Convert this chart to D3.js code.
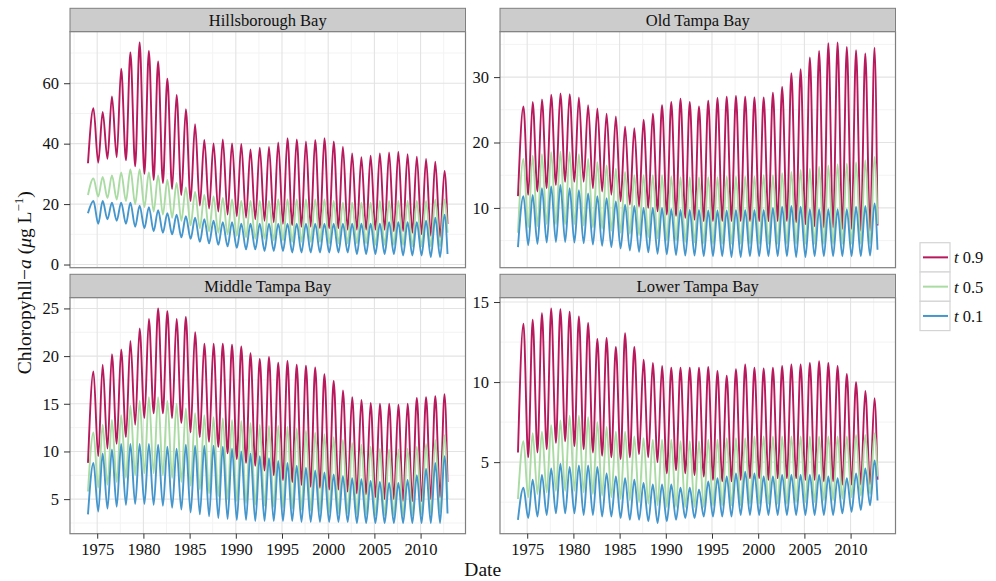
<!DOCTYPE html>
<html>
<head>
<meta charset="utf-8">
<script src="https://cdn.jsdelivr.net/npm/d3@7.8.5/dist/d3.min.js"></script>
<style>
  body { margin: 0; background: #fff; }
  svg { display: block; }
  svg text { font-family: "Liberation Serif", "Times New Roman", Times, "DejaVu Serif", serif; }
</style>
</head>
<body>
<svg id="chart" width="996" height="581"></svg>
<script>
// one summer peak per year 1974-2012, lows = Jan 1974, winter lows 1975-2012, Dec 2012
const years = d3.range(1974, 2013);
const xTickYears = [1975, 1980, 1985, 1990, 1995, 2000, 2005, 2010];
const quantLabels = ['0.9', '0.5', '0.1'];
const quantColors = ['#b8195c', '#a9dba2', '#4596cc'];
const SERIF = '"Liberation Serif", "Times New Roman", Times, "DejaVu Serif", serif';

// Hillsborough Bay
const hb90Peak = [51.7,50.5,55.6,64.8,70.2,73.5,70.7,67.2,61.5,56.1, 51.4,46.4,41.2,40.1,41.4,40.1,39.9,38.1,38.7,38.9, 40.4,41.8,41.4,40.7,41.2,41.8,40.7,39.0,36.8,35.5, 36.0,36.8,37.1,37.3,36.5,35.7,34.9,34.0,31.0];
const hb90Low = [33.5, 33.7,35,35.5,34.5,32.5,30,28,27,25, 23,21,19.5,18.5,17.5,16.5,16,15.5,15,14.5, 14,13.5,13,12.5,12.5,12,12,12,11.5,11.5, 11.5,11.5,11.5,11,11,10.5,10,9.5,9, 13.4];
const hb50Peak = [28.5,29,29.5,30.5,31.5,31.5,30.5,29.5,28,27, 25.5,24,23,22.5,22,21.5,21,21,21,21, 21.5,21.5,21.5,21.5,21.5,21.5,21,20.5,20.5,20.5, 20.5,21,21,21,21,21,21,21.5,21.5];
const hb50Low = [23, 22.5,22,21.5,21,20,19,17.5,16.5,15.5, 14.5,13,12,11,10.5,10,9.5,9,8.5,8.5, 8,8,7.5,7.5,7.5,7.5,7,7,7,7, 7,6.5,6.5,6.5,6.5,6,6,6,6, 10.5];
const hb10Peak = [21,21,20.5,20.5,20.5,19.5,19,18,17,16.5, 16,15.5,15,14.5,14,14,13.5,13.5,13.5,13.5, 13.5,13.5,13.5,13.5,13.5,13.5,13.5,13.5,13.5,13.5, 13.5,13.5,14,14,14,14,14.5,15.5,16.5];
const hb10Low = [17, 13.5,15,14.5,13.5,12.5,12,11,10.5,10, 9,8.5,7.5,7,6.5,6,5.5,5,5,4.5, 4.5,4.5,4,4,4,4,4,4,4,3.5, 3.5,3.5,3.5,3.5,3,3,3,2.5,2.5, 3.5];
const hbTicks = [0, 20, 40, 60];

// Old Tampa Bay
const ot90Peak = [25.5,26.2,26.6,27.3,27.5,27.4,26.9,25.7,25.2,24.4, 24.0,22.4,22.2,23.5,24.4,25.7,26.2,26.7,26.2,25.5, 26.4,26.8,27.0,27.1,27.0,26.9,26.9,27.6,28.5,30.6, 31.2,33.0,34.0,35.2,35.3,34.6,34.1,33.6,34.5];
const ot90Low = [11.8, 12,12.5,13,13.5,14,14,14,13,12.5, 12,11,10.5,10.2,10,9.5,9,8.8,8.5,8.2, 8,8,8,8,8,8,8,8,8,8, 7.8,7.5,7.2,7,7,6.8,6.8,6.5,6.5, 7.3];
const ot50Peak = [17.5,18,18.2,18.5,18.6,18.5,18.2,17.5,17,16.5, 16,15.5,15,15,15,15,14.8,14.7,14.7,14.7, 14.7,14.7,14.8,14.8,14.8,14.8,15,15,15.3,15.5, 15.8,16,16.3,16.5,16.7,16.8,17,17.3,17.8];
const ot50Low = [6.2, 7,7.2,7.5,7.5,7.5,7.5,7.3,7,6.8, 6.5,6.2,6,5.8,5.5,5.3,5,5,4.8,4.7, 4.6,4.5,4.5,4.5,4.5,4.5,4.5,4.5,4.5,4.5, 4.5,4.5,4.5,4.5,4.5,4.5,4.5,4.5,4.5, 7.5];
const ot10Peak = [11.8,12,13,13.3,13.5,13,12.7,12.2,11.8,11.5, 11,10.5,10.3,10,10,10,9.8,9.7,9.7,9.7, 9.6,9.6,9.6,9.7,9.7,9.7,9.7,10,10.2,10.3, 10.2,9.8,9.8,9.8,9.8,9.8,10.2,10.3,10.7];
const ot10Low = [4.0, 4.3,4.5,4.7,4.8,4.8,4.7,4.6,4.4,4.2, 4,3.8,3.5,3.3,3.2,3,2.9,2.8,2.7,2.7, 2.6,2.6,2.6,2.5,2.5,2.6,2.6,2.6,2.6,2.6, 2.5,2.5,2.6,2.6,2.6,2.6,2.6,2.6,2.7, 3.6];
const otTicks = [10, 20, 30];

// Middle Tampa Bay
const mt90Peak = [18.4,19.1,20.2,20.7,21.6,22.9,23.9,25.0,24.7,23.9, 24.1,22.5,21.3,21.3,21.3,21.2,21.0,20.3,19.7,19.9, 19.3,19.5,19.1,19.0,18.8,18.1,17.4,16.4,15.7,15.4, 15.1,15.0,15.0,14.9,15.0,15.6,15.7,15.8,16.0];
const mt90Low = [8.8, 9.5,10.3,10.8,11.5,12.8,13.5,14,14,13.5, 13,12,11.5,11,10.5,9.8,9.2,8.8,8.5,8, 7.5,7,6.8,6.5,6.3,6.2,6,6,5.8,5.6, 5.5,5.2,5,5,4.8,4.8,4.8,5,5.2, 6.8];
const mt50Peak = [12,12.8,13.3,13.8,14.8,15.3,15.7,15.7,15.3,15, 14.5,14,13.8,13.6,13.5,13.3,13.2,13,12.8,12.7, 12.7,12.6,12.4,12.2,12,11.8,11.5,11.2,10.9,10.7, 10.5,10.3,10.2,10.2,10.3,10.5,10.8,11.2,11.7];
const mt50Low = [5.8, 6.2,6.5,6.8,7.2,7.5,7.7,7.7,7.5,7.2, 6.8,6.4,6,5.6,5.3,5,4.8,4.6,4.4,4.3, 4.2,4.1,4,3.9,3.8,3.7,3.6,3.5,3.5,3.4, 3.4,3.3,3.3,3.3,3.3,3.3,3.4,3.5,3.6, 5];
const mt10Peak = [8.8,9.8,10.2,10.8,10.8,10.8,10.8,10.7,10.5,10.3, 10.7,10.6,10.6,10.6,10.5,10.3,10,9.8,9.5,9.3, 9,8.8,8.5,8.3,8,7.8,7.6,7.4,7.2,7.1, 6.9,6.8,6.7,6.7,7,7.5,8.2,8.8,9.5];
const mt10Low = [3.4, 3.7,4,4.2,4.4,4.5,4.5,4.4,4.3,4.1, 3.9,3.6,3.4,3.2,3,2.9,2.8,2.8,2.7,2.7, 2.7,2.7,2.7,2.6,2.6,2.6,2.6,2.6,2.6,2.5, 2.5,2.5,2.5,2.5,2.5,2.5,2.5,2.5,2.5, 3.5];
const mtTicks = [5, 10, 15, 20, 25];

// Lower Tampa Bay
const lt90Peak = [13.65,13.9,14.3,14.6,14.55,14.4,14.1,13.7,12.7,12.75, 12.2,13.05,12.2,11.4,11.2,11.0,10.9,10.9,10.9,10.9, 10.95,10.7,10.4,10.8,11.1,10.9,10.85,10.9,11.0,11.1, 11.1,11.2,11.3,11.2,11.0,10.5,10.0,9.45,9.0];
const lt90Low = [5.6, 5.3,5.6,5.8,6.2,6.3,6,5.8,5.6,5.4, 5.3,5.2,5.3,5.5,5.3,5,4.3,4.5,4.3,4.2, 4.1,3.9,3.8,3.8,3.9,4,4,3.9,4,4, 4,3.9,3.9,3.8,3.8,3.6,3.6,3.6,3.6, 3.9];
const lt50Peak = [6.3,6.8,6.9,7.3,7.6,7.9,7.9,7.8,7.5,7.2, 6.9,6.9,6.6,6.5,6.4,6.4,6.4,6.3,6.3,6.3, 6.4,6.4,6.5,6.5,6.5,6.6,6.6,6.6,6.6,6.6, 6.6,6.6,6.6,6.6,6.6,6.6,6.7,6.7,6.8];
const lt50Low = [2.7, 2.8,3,3.1,3.2,3.2,3.2,3.1,3,2.9, 2.8,2.7,2.6,2.5,2.4,2.3,2.2,2.2,2.2,2.2, 2.2,2.3,2.3,2.3,2.3,2.4,2.4,2.4,2.4,2.4, 2.5,2.5,2.5,2.6,2.6,2.7,2.8,2.9,3, 4.1];
const lt10Peak = [3.4,3.9,4.2,4.6,4.9,4.7,4.8,4.8,4.7,4.3, 4.1,4,3.9,3.7,3.6,3.6,3.6,3.4,3.4,3.3, 3.8,4,4.1,4.3,4.4,4.3,4.1,4.1,4.2,4.2, 4.2,4.2,4.2,4.1,4,4,4.3,4.6,5.1];
const lt10Low = [1.4, 1.5,1.6,1.7,1.8,1.8,1.8,1.7,1.7,1.6, 1.6,1.5,1.4,1.4,1.3,1.2,1.3,1.4,1.5,1.5, 1.6,1.6,1.6,1.6,1.7,1.7,1.7,1.7,1.7,1.7, 1.7,1.7,1.7,1.7,1.7,1.8,1.9,2,2.3, 2.6];
const ltTicks = [5, 10, 15];

// peaks ~ early August, lows ~ February
function buildSeries(peaks, lows) {
    const pts = [{ date: new Date(1974, 0, 1), value: lows[0] }];
    years.forEach((yr, i) => {
        if (i > 0) pts.push({ date: new Date(yr, 1, 10), value: lows[i] });
        pts.push({ date: new Date(yr, 7, 5), value: peaks[i] });
    });
    pts.push({ date: new Date(2012, 11, 1), value: lows[lows.length - 1] });
    return pts;
}

const panels = [
    { name: 'Hillsborough Bay', col: 0, row: 0, ticks: hbTicks,
      series: [buildSeries(hb90Peak, hb90Low), buildSeries(hb50Peak, hb50Low), buildSeries(hb10Peak, hb10Low)] },
    { name: 'Old Tampa Bay', col: 1, row: 0, ticks: otTicks,
      series: [buildSeries(ot90Peak, ot90Low), buildSeries(ot50Peak, ot50Low), buildSeries(ot10Peak, ot10Low)] },
    { name: 'Middle Tampa Bay', col: 0, row: 1, ticks: mtTicks,
      series: [buildSeries(mt90Peak, mt90Low), buildSeries(mt50Peak, mt50Low), buildSeries(mt10Peak, mt10Low)] },
    { name: 'Lower Tampa Bay', col: 1, row: 1, ticks: ltTicks,
      series: [buildSeries(lt90Peak, lt90Low), buildSeries(lt50Peak, lt50Low), buildSeries(lt10Peak, lt10Low)] }
];

// layout
const colX = [70, 500];
const panelW = 395.5;
const stripTop = [8.3, 274.3];
const stripH = 23.4;
const panelH = 236;

const svg = d3.select('#chart');

// shared x scale (5% expansion, like ggplot)
const allDates = panels.flatMap(p => p.series.flatMap(s => s.map(d => d.date)));
const [d0, d1] = d3.extent(allDates);
const span = d1 - d0;
const xDomain = [new Date(+d0 - span * 0.05), new Date(+d1 + span * 0.05)];

function midBreaks(ticks) {
    const step = ticks[1] - ticks[0];
    const out = [ticks[0] - step / 2];
    ticks.forEach(t => out.push(t + step / 2));
    return out;
}

panels.forEach(p => {
    const left = colX[p.col];
    const sTop = stripTop[p.row];
    const top = sTop + stripH;

    const x = d3.scaleTime().domain(xDomain).range([left, left + panelW]);
    const vals = p.series.flatMap(s => s.map(d => d.value));
    const [v0, v1] = d3.extent(vals);
    const pad = (v1 - v0) * 0.05;
    const y = d3.scaleLinear().domain([v0 - pad, v1 + pad]).range([top + panelH, top]);

    // strip
    svg.append('rect')
        .attr('x', left).attr('y', sTop)
        .attr('width', panelW).attr('height', stripH)
        .attr('fill', '#cccccc').attr('stroke', '#7f7f7f').attr('stroke-width', 1);
    svg.append('text')
        .attr('x', left + panelW / 2).attr('y', sTop + stripH / 2 + 5.5)
        .attr('text-anchor', 'middle').attr('font-size', 16.5).attr('fill', '#111')
        .attr('font-family', SERIF)
        .text(p.name);

    const g = svg.append('g');
    g.append('rect')
        .attr('x', left).attr('y', top).attr('width', panelW).attr('height', panelH)
        .attr('fill', '#fff');

    // minor grid
    const yMinor = midBreaks(p.ticks).filter(v => v > y.domain()[0] && v < y.domain()[1]);
    const xMinorYears = [1972.5].concat(xTickYears.map(yr => yr + 2.5));
    const xMinor = xMinorYears.map(yr => new Date(Math.floor(yr), (yr % 1) ? 6 : 0, (yr % 1) ? 2 : 1))
        .filter(d => d > xDomain[0] && d < xDomain[1]);
    g.selectAll('.ymin').data(yMinor).enter().append('line')
        .attr('x1', left).attr('x2', left + panelW)
        .attr('y1', d => y(d)).attr('y2', d => y(d))
        .attr('stroke', '#f3f3f3').attr('stroke-width', 1);
    g.selectAll('.xmin').data(xMinor).enter().append('line')
        .attr('x1', d => x(d)).attr('x2', d => x(d))
        .attr('y1', top).attr('y2', top + panelH)
        .attr('stroke', '#f3f3f3').attr('stroke-width', 1);

    // major grid
    const xMajor = xTickYears.map(yr => new Date(yr, 0, 1));
    g.selectAll('.ymaj').data(p.ticks).enter().append('line')
        .attr('x1', left).attr('x2', left + panelW)
        .attr('y1', d => y(d)).attr('y2', d => y(d))
        .attr('stroke', '#e3e3e3').attr('stroke-width', 1.1);
    g.selectAll('.xmaj').data(xMajor).enter().append('line')
        .attr('x1', d => x(d)).attr('x2', d => x(d))
        .attr('y1', top).attr('y2', top + panelH)
        .attr('stroke', '#e3e3e3').attr('stroke-width', 1.1);

    // lines
    const line = d3.line()
        .x(d => x(d.date))
        .y(d => y(d.value))
        .curve(d3.curveMonotoneX);
    p.series.forEach((s, i) => {
        g.append('path')
            .datum(s)
            .attr('d', line)
            .attr('fill', 'none')
            .attr('stroke', quantColors[i])
            .attr('stroke-width', 1.9)
            .attr('stroke-linejoin', 'round');
    });

    // border
    g.append('rect')
        .attr('x', left).attr('y', top).attr('width', panelW).attr('height', panelH)
        .attr('fill', 'none').attr('stroke', '#7f7f7f').attr('stroke-width', 1.2);

    // y axis
    const yAxis = d3.axisLeft(y).tickValues(p.ticks).tickSize(6).tickPadding(5);
    const ya = svg.append('g').attr('transform', `translate(${left},0)`).call(yAxis);
    ya.attr('font-family', SERIF);
    ya.select('.domain').remove();
    ya.selectAll('.tick line').attr('stroke', '#333');
    ya.selectAll('.tick text').attr('font-size', 16.5).attr('fill', '#111');

    // x axis on bottom row only
    if (p.row === 1) {
        const xAxis = d3.axisBottom(x).tickValues(xMajor).tickFormat(d3.timeFormat('%Y'))
            .tickSize(5).tickPadding(5);
        const xa = svg.append('g').attr('transform', `translate(0,${top + panelH})`).call(xAxis);
        xa.attr('font-family', SERIF);
        xa.select('.domain').remove();
        xa.selectAll('.tick line').attr('stroke', '#333');
        xa.selectAll('.tick text').attr('font-size', 16.5).attr('fill', '#111');
    }
});

// axis titles
svg.append('text')
    .attr('x', colX[0] + (colX[1] + panelW - colX[0]) / 2)
    .attr('y', 576)
    .attr('text-anchor', 'middle').attr('font-size', 19.5).attr('fill', '#111')
    .attr('font-family', SERIF)
    .text('Date');

const yMid = (stripTop[0] + stripH + stripTop[1] + stripH + panelH) / 2;
const yTitle = svg.append('text')
    .attr('transform', `translate(31,${yMid}) rotate(-90)`)
    .attr('text-anchor', 'middle').attr('font-size', 19.5).attr('fill', '#111')
    .attr('font-family', SERIF);
yTitle.append('tspan').text('Chloropyhll\u2212');
yTitle.append('tspan').attr('font-style', 'italic').text('a');
yTitle.append('tspan').text(' (');
yTitle.append('tspan').attr('font-style', 'italic').text('\u03bc');
yTitle.append('tspan').text('g L');
yTitle.append('tspan').attr('font-size', 13).attr('dy', -8).text('\u22121');
yTitle.append('tspan').attr('dy', 8).text(')');

// legend
const legendX = 920, legendY = 242.7, keyW = 30, keyH = 29.3;
const legend = svg.append('g');
quantLabels.forEach((lab, i) => {
    const ky = legendY + i * keyH;
    legend.append('rect')
        .attr('x', legendX).attr('y', ky).attr('width', keyW).attr('height', keyH)
        .attr('fill', '#fff').attr('stroke', '#d4d4d4').attr('stroke-width', 1.2);
    legend.append('line')
        .attr('x1', legendX + 3).attr('x2', legendX + keyW - 2)
        .attr('y1', ky + keyH / 2).attr('y2', ky + keyH / 2)
        .attr('stroke', quantColors[i]).attr('stroke-width', 2);
    const t = legend.append('text')
        .attr('x', legendX + keyW + 4).attr('y', ky + keyH / 2 + 6)
        .attr('font-size', 16.5).attr('fill', '#111')
        .attr('font-family', SERIF);
    t.append('tspan').attr('font-style', 'italic').text('t');
    t.append('tspan').text(' ' + lab);
});
</script>
</body>
</html>
